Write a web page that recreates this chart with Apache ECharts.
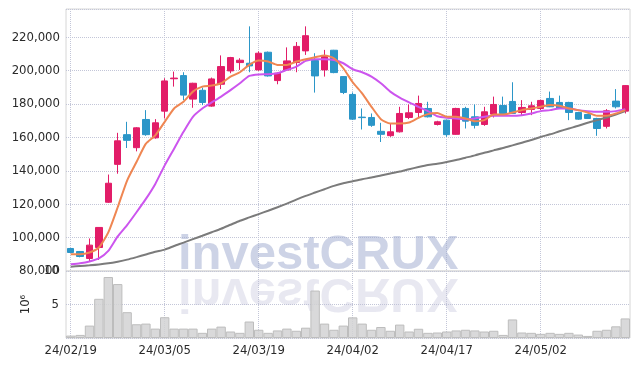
<!DOCTYPE html>
<html><head><meta charset="utf-8">
<script src="https://cdn.jsdelivr.net/npm/echarts@6/dist/echarts.min.js"></script>
<style>html,body{margin:0;padding:0;background:#fff}#c{width:639px;height:366px}</style>
</head><body><div id="c"></div>
<script>
const dates = ["24/02/19","24/02/20","24/02/21","24/02/22","24/02/23","24/02/26","24/02/27","24/02/28","24/02/29","24/03/04",
"24/03/05","24/03/06","24/03/07","24/03/08","24/03/11","24/03/12","24/03/13","24/03/14","24/03/15","24/03/18",
"24/03/19","24/03/20","24/03/21","24/03/22","24/03/25","24/03/26","24/03/27","24/03/28","24/03/29","24/04/01",
"24/04/02","24/04/03","24/04/04","24/04/05","24/04/08","24/04/09","24/04/11","24/04/12","24/04/15","24/04/16",
"24/04/17","24/04/18","24/04/19","24/04/22","24/04/23","24/04/24","24/04/25","24/04/26","24/04/29","24/04/30",
"24/05/02","24/05/03","24/05/07","24/05/08","24/05/09","24/05/10","24/05/13","24/05/14","24/05/16","24/05/17"];
const opens = [93500,91700,87500,94100,121200,143900,161700,153900,170800,159800,
175800,195200,197100,183000,188300,178800,191900,199900,204900,204500,
200500,211100,194100,200500,204900,211900,206100,200500,212300,196500,
185800,172200,172000,163700,161100,163400,172000,175000,177400,167800,
170400,161900,177400,172400,167800,174000,179200,181600,175000,176800,
177400,183400,181000,181000,175000,173800,171400,166700,181800,175800];
const closes = [91100,88700,95500,106100,132600,158000,158300,165800,161700,168800,
193900,195600,185400,192500,181000,195100,202500,207900,206300,202900,
210500,196900,198500,205900,214600,221000,196900,208500,198900,187000,
171000,171900,167300,161900,163400,174400,174800,180400,172400,169400,
161700,177400,169800,167300,175400,179800,174400,174400,178000,179000,
182200,178400,177400,175000,171000,171400,165400,176000,178400,191100];
const lows = [90800,88200,86000,86600,120800,138300,153700,151700,161000,159300,
171400,190500,182400,177800,179400,178400,189000,198500,200500,199100,
200000,196500,191900,199900,199100,209500,186900,196500,198500,186000,
170500,164800,166400,157300,160400,163000,171000,172000,172000,167200,
160400,161700,165400,165400,167000,172000,174200,174200,173000,173400,
176400,178200,177200,170400,170600,171200,161000,165400,177400,174400];
const highs = [93800,92000,99500,106300,137800,162800,169400,166200,176400,171000,
195500,199500,199100,192800,189900,195900,209200,208300,207500,226600,
211600,211500,199000,214000,217200,226600,210500,212500,212500,196800,
187000,177400,174400,168800,168400,178400,179800,185100,181400,170000,
170600,177800,178400,179800,178400,184500,184500,193100,182400,181400,
182600,187500,185100,181400,175400,174200,171800,177000,189000,191300];
const ma5 = [90100,90100,91100,94100,103100,118200,134200,145300,156300,161300,
169400,177400,181400,187500,190500,191100,192500,196500,199100,203500,
206100,205500,203500,203500,205500,206900,208100,209200,207500,201500,
193100,186400,178400,171000,168400,168400,169000,171800,174000,174700,
172400,172400,171400,169800,170400,173800,173800,175000,176400,177400,
178400,179400,179000,177400,176400,175000,173000,173000,174400,176400];
const ma20 = [84000,84600,85700,87500,92000,100700,107500,115200,123200,132200,
143300,153300,163400,172400,177400,181000,184500,188400,192500,196900,
197800,197900,198500,200500,202500,205900,206900,206900,206500,204500,
200900,199100,196500,192500,187500,183900,181000,178400,175800,172700,
171800,171400,171000,171400,172400,173000,173000,173000,173400,174400,
175800,176400,177400,177400,176400,175800,175400,175400,175800,177000];
const ma60 = [82600,83000,83400,83900,84600,85600,86800,88300,89900,91500,
92800,95000,97000,99100,101100,103200,105300,107700,110100,112100,
114100,116100,118200,120400,122800,125000,127000,129000,131000,132600,
133800,135000,136000,137200,138400,139600,141000,142300,143500,144300,
145300,146500,147900,149300,150900,152300,153700,155300,156900,158500,
160300,161900,163700,165400,167000,168800,170400,172000,173800,175800];
const volumes = [0.36,0.46,1.85,5.85,9.1,8.05,3.85,2.05,2.15,1.4,
3.1,1.4,1.4,1.4,0.77,1.4,1.7,0.97,0.77,2.46,
1.23,0.77,1.13,1.4,1.08,1.54,7.08,2.15,1.23,1.85,
3.08,2.15,1.23,1.64,1.08,2.0,0.97,1.38,0.77,0.82,
0.97,1.13,1.23,1.13,0.97,1.08,0.46,2.77,0.82,0.77,
0.62,0.77,0.62,0.77,0.51,0.31,1.08,1.23,1.74,2.92];
const priceMin = 80000, priceMax = 237000, priceStep = 20000;
const volMin = 0, volMax = 10, volStep = 5;
const volUnit = '10⁶';
const watermark = 'investCRUX';

const chart = echarts.init(document.getElementById('c'), null, {renderer: 'canvas'});
const labelFont = {fontFamily: '"DejaVu Sans Condensed", "DejaVu Sans"', fontSize: 13, color: '#2a2a2a'};
const gridLine = {show: true, lineStyle: {type: 'dotted', color: '#c3c6d8', width: 1}};
const fmt = v => v.toString().replace(/\B(?=(\d{3})+(?!\d))/g, ',');
const candles = dates.map((d, i) => [opens[i], closes[i], lows[i], highs[i]]);

chart.setOption({
  animation: false,
  grid: [
    {left: 66, right: 9, top: 9, height: 262, show: true, borderColor: '#d6d6d6', borderWidth: 1, backgroundColor: 'transparent'},
    {left: 66, right: 9, top: 271, height: 67, show: true, borderColor: '#d6d6d6', borderWidth: 1, backgroundColor: 'transparent'}
  ],
  xAxis: [
    {type: 'category', gridIndex: 0, data: dates, boundaryGap: true,
     axisLine: {show: false}, axisTick: {show: false}, axisLabel: {show: false},
     splitLine: Object.assign({interval: 9, alignWithLabel: true}, gridLine)},
    {type: 'category', gridIndex: 1, data: dates, boundaryGap: true,
     axisLine: {show: false}, axisTick: {show: false, interval: 9, alignWithLabel: true},
     axisLabel: Object.assign({interval: 9, margin: 6}, labelFont),
     splitLine: Object.assign({interval: 9, alignWithLabel: true}, gridLine)}
  ],
  yAxis: [
    {type: 'value', gridIndex: 0, min: priceMin, max: priceMax, interval: priceStep,
     axisLine: {show: false}, axisTick: {show: false},
     axisLabel: Object.assign({formatter: fmt, margin: 6, showMaxLabel: false}, labelFont),
     splitLine: gridLine},
    {type: 'value', gridIndex: 1, min: volMin, max: volMax, interval: volStep,
     axisLine: {show: false}, axisTick: {show: false},
     axisLabel: Object.assign({margin: 7, showMinLabel: false}, labelFont),
     splitLine: gridLine,
     name: volUnit, nameLocation: 'middle', nameRotate: 90, nameGap: 34, nameMoveOverlap: false,
     nameTextStyle: labelFont}
  ],
  graphic: [
    {type: 'text', x: 178, y: 255, z: 1, silent: true,
     style: {text: watermark, font: 'bold 49px "Liberation Sans"', fill: 'rgba(155,168,205,0.5)', verticalAlign: 'middle'}},
    {type: 'group', x: 178, y: 274, scaleY: -1, z: 1, silent: true,
     children: [{type: 'text', x: 0, y: -19, z: 1,
       style: {text: watermark, font: 'bold 49px "Liberation Sans"', fill: 'rgba(190,190,215,0.35)', verticalAlign: 'middle'}}]}
  ],
  series: [
    {type: 'bar', xAxisIndex: 1, yAxisIndex: 1, data: volumes, barCategoryGap: '0%',
     itemStyle: {color: 'rgba(210,210,212,0.85)', borderColor: '#bdbdbd', borderWidth: 1}},
    {type: 'line', data: ma60, symbol: 'none', smooth: 0.2, lineStyle: {color: '#7b7b7b', width: 2}},
    {type: 'line', data: ma20, symbol: 'none', smooth: 0.2, lineStyle: {color: '#cc55ee', width: 2}},
    {type: 'line', data: ma5, symbol: 'none', smooth: 0.2, lineStyle: {color: '#ef8652', width: 2}},
    {type: 'candlestick', data: candles, barWidth: 7,
     itemStyle: {color: '#e21d68', color0: '#2b96c8', borderColor: '#e21d68', borderColor0: '#2b96c8', borderWidth: 1}}
  ]
});
</script></body></html>
